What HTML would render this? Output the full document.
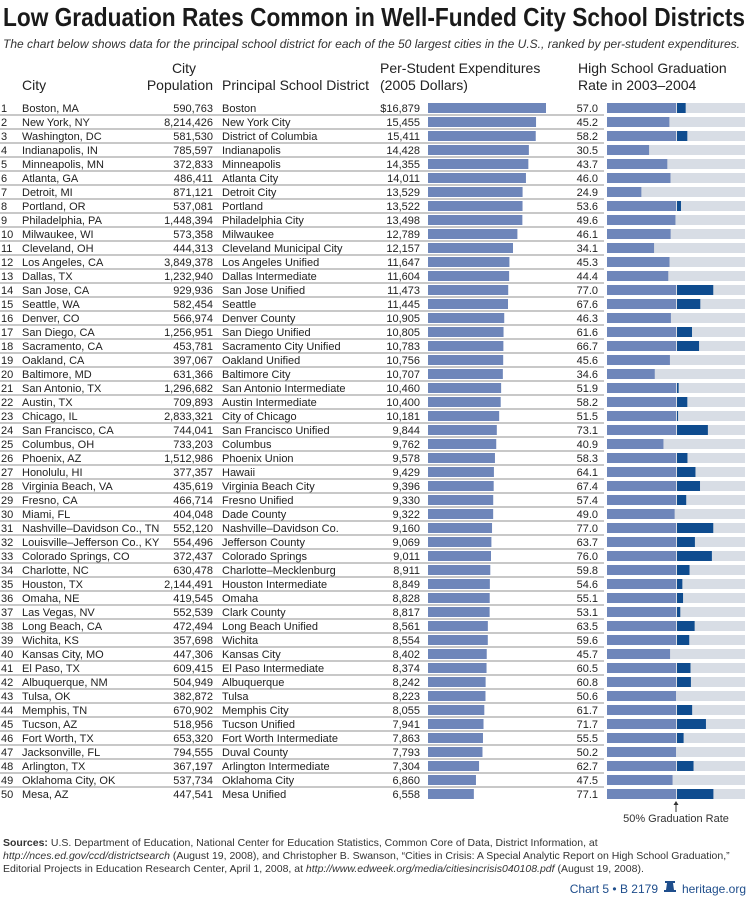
<!DOCTYPE html>
<html><head><meta charset="utf-8"><style>
html,body{margin:0;padding:0;background:#fff;}
svg{display:block;font-family:"Liberation Sans",sans-serif;}
</style></head><body>
<svg id="chart" width="750" height="901" viewBox="0 0 750 901" xmlns="http://www.w3.org/2000/svg">
<text x="3" y="26" font-family="Liberation Sans Narrow, Liberation Sans, sans-serif" font-weight="bold" font-size="26" fill="#1a1a1a" textLength="742" lengthAdjust="spacingAndGlyphs">Low Graduation Rates Common in Well-Funded City School Districts</text>
<text x="3" y="48" font-style="italic" font-size="12" fill="#333" textLength="737" lengthAdjust="spacingAndGlyphs">The chart below shows data for the principal school district for each of the 50 largest cities in the U.S., ranked by per-student expenditures.</text>
<g font-size="14" fill="#222">
<text x="22" y="90">City</text>
<text x="184" y="73" text-anchor="middle">City</text>
<text x="213" y="90" text-anchor="end">Population</text>
<text x="222" y="90">Principal School District</text>
<text x="380" y="73">Per-Student Expenditures</text>
<text x="380" y="90">(2005 Dollars)</text>
<text x="578" y="73">High School Graduation</text>
<text x="578" y="90">Rate in 2003–2004</text>
</g>
<g id="rows"></g>
<g>
<line id="mk" y1="802" y2="812" stroke="#333" stroke-width="1"/>
<path id="mkarrow" fill="#333"/>
<text id="mklabel" y="822" font-size="11" fill="#333" text-anchor="middle">50% Graduation Rate</text>
</g>
<g font-size="10.5" fill="#333">
<text x="3" y="846"><tspan font-weight="bold">Sources:</tspan> U.S. Department of Education, National Center for Education Statistics, Common Core of Data, District Information, at</text>
<text x="3" y="859"><tspan font-style="italic">http://nces.ed.gov/ccd/districtsearch</tspan> (August 19, 2008), and Christopher B. Swanson, “Cities in Crisis: A Special Analytic Report on High School Graduation,”</text>
<text x="3" y="872">Editorial Projects in Education Research Center, April 1, 2008, at <tspan font-style="italic">http://www.edweek.org/media/citiesincrisis040108.pdf</tspan> (August 19, 2008).</text>
</g>
<g font-size="12" fill="#1f4e8c">
<text x="658" y="893" text-anchor="end">Chart 5 • B 2179</text>
<path d="M664 892 h12 v-2 h-2 l-1 -7 h2 v-2 h-10 v2 h2 l-1 7 h-2 z" fill="#1f4e8c"/>
<text x="746" y="893" text-anchor="end">heritage.org</text>
</g>
</svg>
<script>
const cities=["Boston, MA","New York, NY","Washington, DC","Indianapolis, IN","Minneapolis, MN","Atlanta, GA","Detroit, MI","Portland, OR","Philadelphia, PA","Milwaukee, WI","Cleveland, OH","Los Angeles, CA","Dallas, TX","San Jose, CA","Seattle, WA","Denver, CO","San Diego, CA","Sacramento, CA","Oakland, CA","Baltimore, MD","San Antonio, TX","Austin, TX","Chicago, IL","San Francisco, CA","Columbus, OH","Phoenix, AZ","Honolulu, HI","Virginia Beach, VA","Fresno, CA","Miami, FL","Nashville–Davidson Co., TN","Louisville–Jefferson Co., KY","Colorado Springs, CO","Charlotte, NC","Houston, TX","Omaha, NE","Las Vegas, NV","Long Beach, CA","Wichita, KS","Kansas City, MO","El Paso, TX","Albuquerque, NM","Tulsa, OK","Memphis, TN","Tucson, AZ","Fort Worth, TX","Jacksonville, FL","Arlington, TX","Oklahoma City, OK","Mesa, AZ"];
const populations=["590,763","8,214,426","581,530","785,597","372,833","486,411","871,121","537,081","1,448,394","573,358","444,313","3,849,378","1,232,940","929,936","582,454","566,974","1,256,951","453,781","397,067","631,366","1,296,682","709,893","2,833,321","744,041","733,203","1,512,986","377,357","435,619","466,714","404,048","552,120","554,496","372,437","630,478","2,144,491","419,545","552,539","472,494","357,698","447,306","609,415","504,949","382,872","670,902","518,956","653,320","794,555","367,197","537,734","447,541"];
const districts=["Boston","New York City","District of Columbia","Indianapolis","Minneapolis","Atlanta City","Detroit City","Portland","Philadelphia City","Milwaukee","Cleveland Municipal City","Los Angeles Unified","Dallas Intermediate","San Jose Unified","Seattle","Denver County","San Diego Unified","Sacramento City Unified","Oakland Unified","Baltimore City","San Antonio Intermediate","Austin Intermediate","City of Chicago","San Francisco Unified","Columbus","Phoenix Union","Hawaii","Virginia Beach City","Fresno Unified","Dade County","Nashville–Davidson Co.","Jefferson County","Colorado Springs","Charlotte–Mecklenburg","Houston Intermediate","Omaha","Clark County","Long Beach Unified","Wichita","Kansas City","El Paso Intermediate","Albuquerque","Tulsa","Memphis City","Tucson Unified","Fort Worth Intermediate","Duval County","Arlington Intermediate","Oklahoma City","Mesa Unified"];
const expenditures=[16879,15455,15411,14428,14355,14011,13529,13522,13498,12789,12157,11647,11604,11473,11445,10905,10805,10783,10756,10707,10460,10400,10181,9844,9762,9578,9429,9396,9330,9322,9160,9069,9011,8911,8849,8828,8817,8561,8554,8402,8374,8242,8223,8055,7941,7863,7793,7304,6860,6558];
const gradRates=[57.0,45.2,58.2,30.5,43.7,46.0,24.9,53.6,49.6,46.1,34.1,45.3,44.4,77.0,67.6,46.3,61.6,66.7,45.6,34.6,51.9,58.2,51.5,73.1,40.9,58.3,64.1,67.4,57.4,49.0,77.0,63.7,76.0,59.8,54.6,55.1,53.1,63.5,59.6,45.7,60.5,60.8,50.6,61.7,71.7,55.5,50.2,62.7,47.5,77.1];

const NS="http://www.w3.org/2000/svg";
const rowY=i=>108+i*14;
const xExp=v=>428+v*(118/16879);
const xGrad=v=>607+v*1.38;
const g=document.getElementById('rows');
function mk(tag,attrs,parent){const e=document.createElementNS(NS,tag);for(const k in attrs)e.setAttribute(k,attrs[k]);parent.appendChild(e);return e;}
function txt(parent,x,y,s,anchor){const t=mk('text',{x:x,y:y,'font-size':'11','fill':'#222','text-anchor':anchor||'start'},parent);t.textContent=s;return t;}
cities.forEach((c,i)=>{
  const cy=rowY(i), by=cy+4;
  const r=mk('g',{},g);
  
  
  if(i<49){const l=mk('line',{x1:0,x2:604,y1:cy+7,y2:cy+7,stroke:'#b5b5b5','stroke-width':'1.5'},r);
    
    }
  txt(r,1,by,String(i+1));
  const ct=txt(r,22,by,c);  
  const pt=txt(r,213,by,populations[i],'end');  
  const dt=txt(r,222,by,districts[i]);  
  const et=txt(r,420,by,(i===0?'$':'')+expenditures[i].toLocaleString('en-US'),'end');  
  const eb=mk('rect',{x:xExp(0),y:cy-5,width:xExp(expenditures[i])-xExp(0),height:10,fill:'#6e86ba'},r);
  
  
  const gt=txt(r,598,by,gradRates[i].toFixed(1),'end');  
  const bg=mk('rect',{x:xGrad(0),y:cy-5,width:xGrad(100)-xGrad(0),height:10,fill:'#d8dde5'},r);
  
  
  const v=gradRates[i];
  const lb=mk('rect',{x:xGrad(0),y:cy-5,width:xGrad(Math.min(v,50))-xGrad(0),height:10,fill:'#6e86ba'},r);
  
  
  if(v>50){const db=mk('rect',{x:xGrad(50)+1,y:cy-5,width:Math.max(0,xGrad(v)-xGrad(50)-1),height:10,fill:'#0f4c8f'},r);
    
    }
});
const x50=xGrad(50);
const m=document.getElementById('mk'); m.setAttribute('x1',x50); m.setAttribute('x2',x50);
document.getElementById('mkarrow').setAttribute('d',`M${x50-2.5} 805 L${x50} 801 L${x50+2.5} 805 Z`);
document.getElementById('mklabel').setAttribute('x',x50);
</script>
</body></html>
